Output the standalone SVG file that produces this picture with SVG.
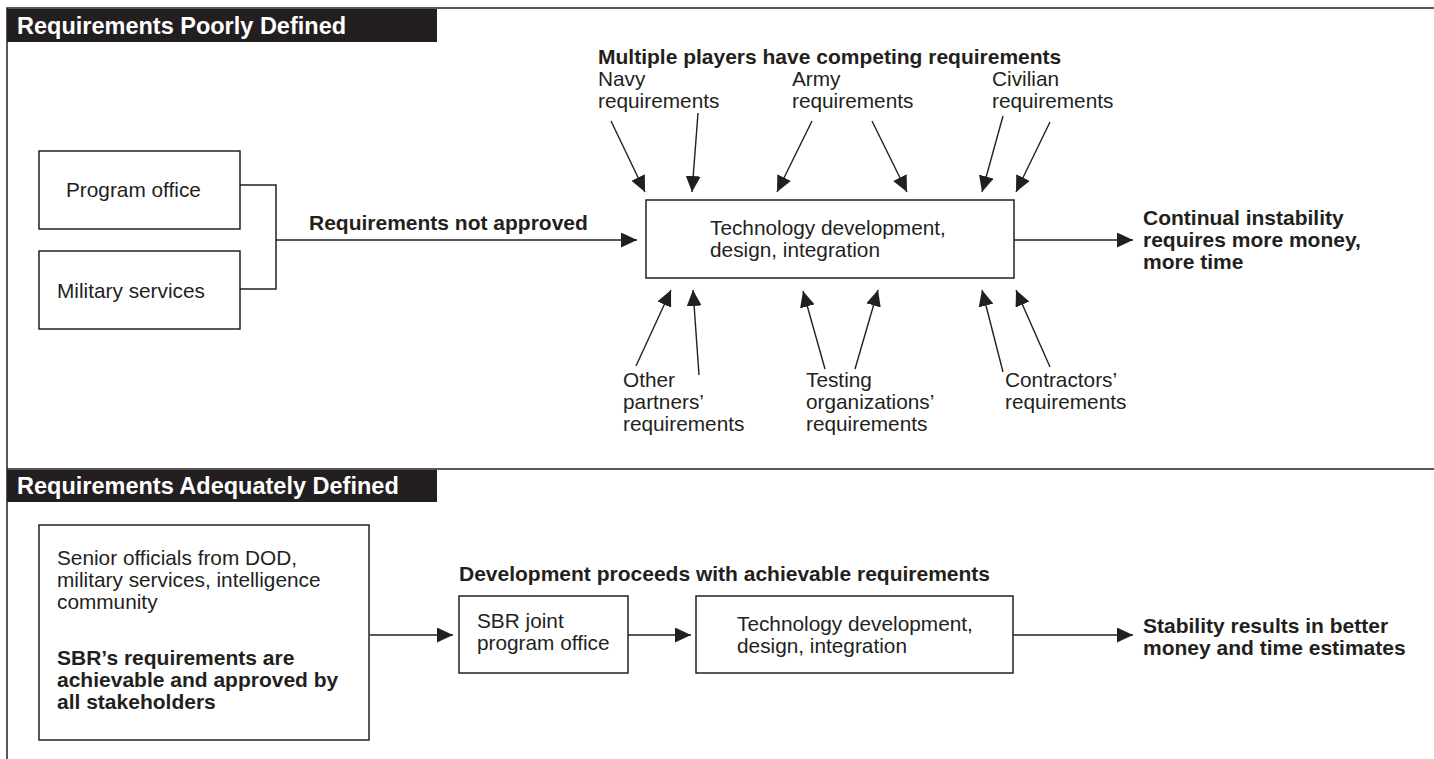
<svg xmlns="http://www.w3.org/2000/svg" width="1434" height="759" viewBox="0 0 1434 759">
<style>
text{font-family:"Liberation Sans",Arial,sans-serif;fill:#231f20;font-size:20.8px}
.b{font-weight:bold;font-size:21px}
.h{font-weight:bold;font-size:23.5px;fill:#fff}
.box{fill:#fff;stroke:#231f20;stroke-width:1.5}
.frame{fill:none;stroke:#231f20;stroke-width:1.5}
.c{fill:none;stroke:#231f20;stroke-width:1.5}
.a{fill:none;stroke:#231f20;stroke-width:1.4;marker-end:url(#ah)}
</style>
<defs>
<marker id="ah" markerUnits="userSpaceOnUse" markerWidth="17" markerHeight="15" refX="16" refY="7.5" orient="auto">
<path d="M0,0 L16,7.5 L0,15 z" fill="#231f20"/>
</marker>
</defs>
<rect width="1434" height="759" fill="#fff"/>
<g id="frame">
<path class="frame" d="M1434,8 H7 V759"/>
<path class="frame" d="M7,469 H1434"/>
<rect x="7" y="9" width="430" height="33" fill="#231f20"/>
<text class="h" x="17" y="34">Requirements Poorly Defined</text>
<rect x="7" y="470" width="430" height="32" fill="#231f20"/>
<text class="h" x="17" y="494">Requirements Adequately Defined</text>
</g>
<g id="labels">
<text class="b" x="598" y="64">Multiple players have competing requirements</text>
<text x="598" y="86">Navy</text><text x="598" y="108">requirements</text>
<text x="792" y="86">Army</text><text x="792" y="108">requirements</text>
<text x="992" y="86">Civilian</text><text x="992" y="108">requirements</text>
<text x="623" y="387">Other</text><text x="623" y="409">partners’</text><text x="623" y="431">requirements</text>
<text x="806" y="387">Testing</text><text x="806" y="409">organizations’</text><text x="806" y="431">requirements</text>
<text x="1005" y="387">Contractors’</text><text x="1005" y="409">requirements</text>
<text class="b" x="309" y="230">Requirements not approved</text>
<text class="b" x="1143" y="225">Continual instability</text>
<text class="b" x="1143" y="247">requires more money,</text>
<text class="b" x="1143" y="269">more time</text>
<text class="b" x="459" y="581">Development proceeds with achievable requirements</text>
<text class="b" x="1143" y="633">Stability results in better</text>
<text class="b" x="1143" y="655">money and time estimates</text>
</g>
<g id="program-office">
<rect class="box" x="39" y="151" width="201" height="78"/>
<text x="66" y="197">Program office</text>
</g>
<g id="military-services">
<rect class="box" x="39" y="251" width="201" height="78"/>
<text x="57" y="298">Military services</text>
</g>
<g id="tech-top">
<rect class="box" x="646" y="200" width="368" height="78"/>
<text x="710" y="235">Technology development,</text>
<text x="710" y="257">design, integration</text>
</g>
<g id="senior-officials">
<rect class="box" x="39" y="525" width="330" height="215"/>
<text x="57" y="565">Senior officials from DOD,</text>
<text x="57" y="587">military services, intelligence</text>
<text x="57" y="609">community</text>
<text class="b" x="57" y="665">SBR’s requirements are</text>
<text class="b" x="57" y="687">achievable and approved by</text>
<text class="b" x="57" y="709">all stakeholders</text>
</g>
<g id="sbr-office">
<rect class="box" x="459" y="596" width="169" height="77"/>
<text x="477" y="628">SBR joint</text>
<text x="477" y="650">program office</text>
</g>
<g id="tech-bottom">
<rect class="box" x="696" y="596" width="317" height="77"/>
<text x="737" y="631">Technology development,</text>
<text x="737" y="653">design, integration</text>
</g>
<g id="connectors">
<path class="c" d="M240,185 H276 V289 H240"/>
<line class="a" x1="276" y1="240" x2="637" y2="240"/>
<line class="a" x1="1014" y1="240" x2="1133" y2="240"/>
<line class="a" x1="611" y1="121" x2="645" y2="192"/>
<line class="a" x1="698" y1="113" x2="692" y2="192"/>
<line class="a" x1="812" y1="121" x2="777" y2="192"/>
<line class="a" x1="872" y1="121" x2="907" y2="192"/>
<line class="a" x1="1003" y1="116" x2="982" y2="192"/>
<line class="a" x1="1050" y1="122" x2="1016" y2="192"/>
<line class="a" x1="636" y1="366" x2="671" y2="290"/>
<line class="a" x1="699" y1="375" x2="693" y2="290"/>
<line class="a" x1="825" y1="369" x2="803" y2="291"/>
<line class="a" x1="855" y1="369" x2="878" y2="290"/>
<line class="a" x1="1003" y1="372" x2="982" y2="290"/>
<line class="a" x1="1050" y1="367" x2="1016" y2="290"/>
<line class="a" x1="370" y1="635" x2="453" y2="635"/>
<line class="a" x1="628" y1="635" x2="691" y2="635"/>
<line class="a" x1="1013" y1="635" x2="1133" y2="635"/>
</g>
</svg>
